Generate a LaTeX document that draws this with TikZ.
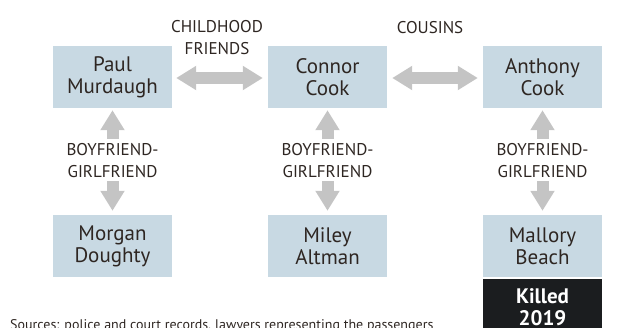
\documentclass[tikz,border=0pt]{standalone}
\usepackage{fontspec}
\setmainfont{PT Sans}
\usetikzlibrary{arrows.meta}
\definecolor{boxfill}{HTML}{C8D9E3}
\definecolor{arrowgray}{HTML}{C4C4C4}
\definecolor{inktext}{HTML}{2E2622}
\definecolor{killedfill}{HTML}{1B1D1F}
\begin{document}
\begin{tikzpicture}[x=1pt,y=-1pt,
  person/.style={fill=boxfill, minimum width=119pt, minimum height=62pt, inner sep=0pt,
    align=center, text=inktext, font=\fontsize{21}{22}\selectfont},
  rel/.style={align=center, text=inktext, inner sep=0pt, font=\fontsize{17}{22}\selectfont},
  fat/.style={draw=arrowgray, line width=12pt,
    -{Triangle[width=23pt,length=20pt]}},
  fatboth/.style={draw=arrowgray, line width=12pt,
    {Triangle[width=23pt,length=20pt]}-{Triangle[width=23pt,length=20pt]}},
  killedbox/.style={fill=killedfill, text=white, minimum width=119pt, minimum height=56pt,
    inner sep=0pt, align=center, font=\fontsize{21}{22}\selectfont\bfseries}
]
\useasboundingbox (0,0) rectangle (639,327);
\node[person] (paul) at (112.5,77) {Paul\\Murdaugh};
\node[person] (connor) at (327.5,77) {Connor\\Cook};
\node[person] (anthony) at (542.5,77) {Anthony\\Cook};
\node[person] (morgan) at (112.5,246) {Morgan\\Doughty};
\node[person] (miley) at (327.5,246) {Miley\\Altman};
\node[person] (mallory) at (542.5,246) {Mallory\\Beach};
\node[killedbox, anchor=north] (killed) at (542.5,279) {Killed\\2019};

\node[rel] (childhood) at (217,38) {CHILDHOOD\\FRIENDS};
\node[rel, anchor=base] (cousins) at (430,33) {COUSINS};

\node[rel] (bg1) at (112.5,161) {BOYFRIEND-\\GIRLFRIEND};
\node[rel] (bg2) at (327.5,161) {BOYFRIEND-\\GIRLFRIEND};
\node[rel] (bg3) at (542.5,161) {BOYFRIEND-\\GIRLFRIEND};

\draw[fatboth, shorten <=4pt, shorten >=5pt] ([yshift=-1pt]paul.east) -- ([yshift=-1pt]connor.west);
\draw[fatboth, shorten <=5pt, shorten >=5pt] ([yshift=-1pt]connor.east) -- ([yshift=-1pt]anthony.west);

\draw[fat, shorten <=5pt, shorten >=2pt] (bg1.north) -- (paul.south);
\draw[fat, shorten <=5pt, shorten >=2pt] (bg2.north) -- (connor.south);
\draw[fat, shorten <=5pt, shorten >=2pt] (bg3.north) -- (anthony.south);
\draw[fat, shorten <=3pt, shorten >=4pt] (bg1.south) -- (morgan.north);
\draw[fat, shorten <=3pt, shorten >=4pt] (bg2.south) -- (miley.north);
\draw[fat, shorten <=3pt, shorten >=4pt] (bg3.south) -- (mallory.north);

\node[anchor=base west, text=inktext, inner sep=0pt, font=\fontsize{14}{16}\selectfont] (src) at (10,329)
  {Sources: police and court records, lawyers representing the passengers};
\end{tikzpicture}
\end{document}
